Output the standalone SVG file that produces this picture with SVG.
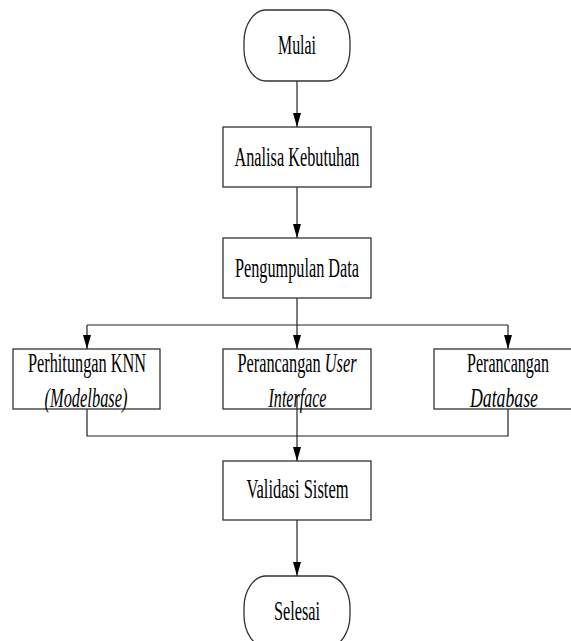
<svg xmlns="http://www.w3.org/2000/svg" width="571" height="641" viewBox="0 0 571 641">
<style>
.box{fill:#fff;stroke:#333;stroke-width:1.3}
.t{font-family:"Liberation Serif","Times New Roman",serif;font-size:28px;fill:#000}
.i{font-style:italic}
.m{text-anchor:middle}
.c{fill:none;stroke:#222;stroke-width:1.2}
</style>
<defs>
<marker id="arr" markerWidth="14" markerHeight="8" refX="14" refY="4" orient="auto" markerUnits="userSpaceOnUse" viewBox="0 0 14 8">
<path d="M0,0 L14,4 L0,8 Z" fill="#000"/>
</marker>
</defs>
<rect width="571" height="641" fill="#fff"/>
<g id="connectors">
<line class="c" x1="297" y1="81" x2="297" y2="127" marker-end="url(#arr)"/>
<line class="c" x1="297" y1="187" x2="297" y2="238" marker-end="url(#arr)"/>
<line class="c" x1="297" y1="298" x2="297" y2="349" marker-end="url(#arr)"/>
<path class="c" d="M87,325 H508"/>
<line class="c" x1="87" y1="325" x2="87" y2="349" marker-end="url(#arr)"/>
<line class="c" x1="508" y1="325" x2="508" y2="349" marker-end="url(#arr)"/>
<path class="c" d="M87,409 V436 H508 V409"/>
<line class="c" x1="297" y1="409" x2="297" y2="461" marker-end="url(#arr)"/>
<line class="c" x1="297" y1="520" x2="297" y2="576" marker-end="url(#arr)"/>
</g>
<g id="mulai">
<rect class="box" x="244" y="10" width="106" height="71" rx="22" ry="32"/>
<text class="t m" x="297" y="54" textLength="38" lengthAdjust="spacingAndGlyphs">Mulai</text>
</g>
<g id="analisa">
<rect class="box" x="223" y="127" width="148" height="60"/>
<text class="t m" x="297" y="166" textLength="125" lengthAdjust="spacingAndGlyphs">Analisa Kebutuhan</text>
</g>
<g id="pengumpulan">
<rect class="box" x="223" y="238" width="148" height="60"/>
<text class="t m" x="297" y="277" textLength="124" lengthAdjust="spacingAndGlyphs">Pengumpulan Data</text>
</g>
<g id="knn">
<rect class="box" x="13" y="349" width="147" height="60"/>
<text class="t m" x="87" y="372" textLength="118" lengthAdjust="spacingAndGlyphs">Perhitungan KNN</text>
<text class="t m i" x="86" y="407" textLength="83" lengthAdjust="spacingAndGlyphs">(Modelbase)</text>
</g>
<g id="ui">
<rect class="box" x="223" y="349" width="148" height="60"/>
<line class="c" x1="297" y1="396" x2="297" y2="409"/>
<text class="t m" x="297" y="372" textLength="119" lengthAdjust="spacingAndGlyphs">Perancangan <tspan class="i">User</tspan></text>
<text class="t m i" x="297.5" y="407" textLength="58" lengthAdjust="spacingAndGlyphs">Interface</text>
</g>
<g id="database">
<rect class="box" x="434" y="349" width="148" height="60"/>
<text class="t m" x="508" y="372" textLength="82" lengthAdjust="spacingAndGlyphs">Perancangan</text>
<text class="t m i" x="504" y="407" textLength="68" lengthAdjust="spacingAndGlyphs">Database</text>
</g>
<g id="validasi">
<rect class="box" x="223" y="461" width="148" height="59"/>
<text class="t m" x="297.5" y="498" textLength="102" lengthAdjust="spacingAndGlyphs">Validasi Sistem</text>
</g>
<g id="selesai">
<rect class="box" x="244" y="576" width="106" height="71" rx="22" ry="32"/>
<text class="t m" x="297" y="620" textLength="46" lengthAdjust="spacingAndGlyphs">Selesai</text>
</g>
</svg>
